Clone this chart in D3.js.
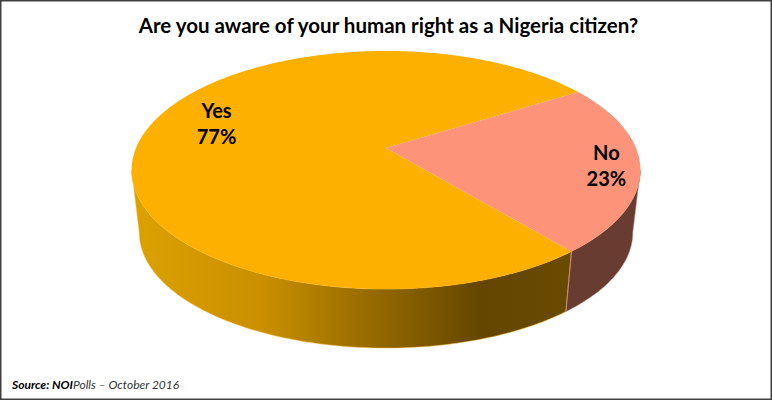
<!DOCTYPE html>
<html>
<head>
<meta charset="utf-8">
<script src="https://cdn.jsdelivr.net/npm/d3@7"></script>
<style>
  html, body { margin: 0; padding: 0; background: #fff; }
  svg { display: block; }
  text { font-family: Lato, "Open Sans", sans-serif; fill: #000; }
</style>
</head>
<body>
<div class="chart"></div>
<script>
var categories = ["Yes", "No"];
var values = [77, 23];
var topColors = ["#fdb000", "#fd9378"];
var sideColors = ["#6a4a00", "#693c31"];
var titleText = "Are you aware of your human right as a Nigeria citizen?";

var svgWidth = 772;
var svgHeight = 400;

var svg = d3.select(".chart")
  .append("svg")
  .attr("width", svgWidth)
  .attr("height", svgHeight);

// frame
svg.append("rect")
  .attr("x", 0).attr("y", 0)
  .attr("width", svgWidth).attr("height", svgHeight)
  .attr("fill", "#fff")
  .attr("stroke", "#404040")
  .attr("stroke-width", 3);

svg.append("text")
  .attr("x", 388.5)
  .attr("y", 33)
  .attr("text-anchor", "middle")
  .attr("font-size", "20.5px")
  .attr("font-weight", 700)
  .text(titleText);

// perspective disc: apex is above the middle of the ellipse
var apexX = 386, apexY = 148;
var radiusX = 250, radiusY = 115, tilt = 0.185;
var depthShift = 63.2, depthScale = 0.97;

// d3 pie angle -> point on top face, r is 0..1 of the radius
function project(angle, r) {
  var cos = Math.sin(angle) * r;
  var sin = -Math.cos(angle) * r;
  var w = 1 - tilt * sin;
  return [radiusX * cos / w, radiusY * sin / w];
}
function topPoint(angle, r) {
  var p = project(angle, r);
  return [apexX + p[0], apexY + p[1]];
}
function bottomPoint(angle) {
  var p = project(angle, 1);
  return [apexX + p[0] * depthScale, apexY + depthShift + p[1] * depthScale];
}

var pie = d3.pie()
  .sort(null)
  .startAngle(140.5 * Math.PI / 180)
  .endAngle((140.5 + 360) * Math.PI / 180);
var arcs = pie(values);

function anglesBetween(a, b) {
  var n = Math.max(2, Math.ceil(Math.abs(b - a) * 60));
  return d3.range(n + 1).map(i => a + (b - a) * i / n);
}

var line = d3.line();

// side wall gradient, left to right
var defs = svg.append("defs");
var grad = defs.append("linearGradient")
  .attr("id", "sideYes")
  .attr("gradientUnits", "userSpaceOnUse")
  .attr("x1", 133).attr("y1", 0)
  .attr("x2", 570).attr("y2", 0);
[[0, "#dca100"], [0.3, "#c98f00"], [0.58, "#8f6500"], [0.8, "#644600"], [1, sideColors[0]]]
  .forEach(function(s) {
    grad.append("stop").attr("offset", s[0]).attr("stop-color", s[1]);
  });

// wall runs between the widest points of the ellipse
var wallFrom = Math.PI / 2 + Math.asin(tilt);
var wallTo = 3 * Math.PI / 2 - Math.asin(tilt);

function wallPath(a, b) {
  var angles = anglesBetween(a, b);
  var pts = angles.map(t => topPoint(t, 1))
    .concat(angles.slice().reverse().map(bottomPoint));
  return line(pts) + "Z";
}

var seamA = arcs[0].startAngle;
var wallSpans = [
  { from: seamA, to: wallTo, fill: "url(#sideYes)", edge: "#fdc040" },
  { from: wallFrom, to: seamA, fill: sideColors[1], edge: "#b98070" }
];

svg.append("g").selectAll("path")
  .data(wallSpans)
  .enter()
  .append("path")
  .attr("d", d => wallPath(d.from, d.to))
  .attr("fill", d => d.fill)
  .attr("stroke", d => d.edge)
  .attr("stroke-width", 0.5);

// light seam between the two walls
svg.append("path")
  .attr("d", line([topPoint(seamA, 1), bottomPoint(seamA)]))
  .attr("stroke", "#c9917a")
  .attr("stroke-width", 0.8)
  .attr("fill", "none");

// top face
svg.append("g").selectAll("path")
  .data(arcs)
  .enter()
  .append("path")
  .attr("d", function(d) {
    var pts = anglesBetween(d.startAngle, d.endAngle).map(t => topPoint(t, 1));
    return line([[apexX, apexY]].concat(pts)) + "Z";
  })
  .attr("fill", (d, i) => topColors[i]);

// labels: radial spot inside each slice, nudged off the middle angle like the original
var labelNudge = [9.4 * Math.PI / 180, 0];
var labelRadius = [0.746, 0.87];

var labels = svg.append("g").selectAll("text")
  .data(arcs)
  .enter()
  .append("text")
  .attr("text-anchor", "middle")
  .attr("font-size", "20px")
  .attr("font-weight", 700)
  .attr("transform", function(d, i) {
    var mid = (d.startAngle + d.endAngle) / 2 + labelNudge[i];
    return "translate(" + topPoint(mid, labelRadius[i]) + ")";
  });

labels.append("tspan")
  .attr("x", 0).attr("y", -4)
  .text((d, i) => categories[i]);
labels.append("tspan")
  .attr("x", 0).attr("y", 22)
  .text((d, i) => values[i] + "%");

// source line
var source = svg.append("text")
  .attr("x", 12)
  .attr("y", 389)
  .attr("font-size", "12px")
  .attr("font-style", "italic");
source.append("tspan").attr("font-weight", 700).text("Source: NOI");
source.append("tspan").attr("fill", "#333").text("Polls \u2013 October 2016");
</script>
</body>
</html>
